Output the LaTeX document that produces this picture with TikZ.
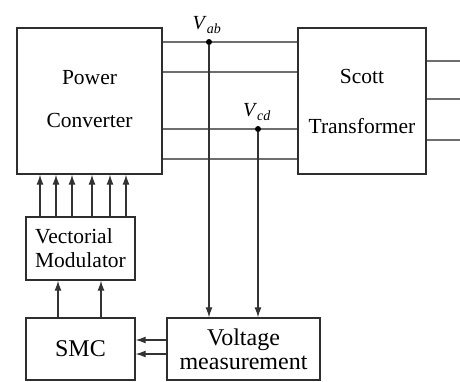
\documentclass[tikz,border=0pt]{standalone}
\usepackage{fontspec}
\setmainfont{Liberation Serif}
\usepackage{tikz}
\usetikzlibrary{arrows.meta,positioning,calc}
\definecolor{boxgray}{HTML}{2E2E2E}
\definecolor{busgray}{HTML}{6E6E6E}

\begin{document}
\begin{tikzpicture}[x=1pt, y=-1pt,
    blk/.style={draw=boxgray, line width=1.4pt, fill=white, inner sep=0pt,
        align=center, font=\fontsize{21.5}{24}\selectfont},
    bus/.style={draw=busgray, line width=1.8pt},
    sig/.style={draw=black!80, line width=1.1pt, -{Latex[length=10pt,width=7pt]}},
    tap/.style={circle, fill=black, inner sep=0pt, minimum size=6pt}]
    \useasboundingbox (0,0) rectangle (460,381);
    % main blocks
    \node[blk, minimum width=145pt, minimum height=146pt,
        label={[align=center, font=\fontsize{21.5}{24}\selectfont, yshift=1.5pt]center:Power\\[19pt]Converter}] (pc) at (89.5,101) {};
    \node[blk, minimum width=128pt, minimum height=146pt] (st) at (362,101)
        {Scott\\[26pt]Transformer};
    \node[blk, minimum width=109pt, minimum height=63pt, align=left] (vmod) at (80.5,248.5)
        {Vectorial\\Modulator};
    \node[blk, minimum width=109pt, minimum height=62pt,
        font=\fontsize{24}{24}\selectfont] (smc) at (80.5,349) {SMC};
    \node[blk, minimum width=153pt, minimum height=62pt,
        font=\fontsize{24}{24}\selectfont] (meas) at (243.5,349) {Voltage\\measurement};
    \coordinate (out) at (460,0);
    % phase lines
    \foreach \y in {42,72,129,159}
        \draw[bus] (pc.east |- 0,\y) -- (st.west |- 0,\y);
    \foreach \y in {61,99,140}
        \draw[bus] (st.east |- 0,\y) -- (out |- 0,\y);
    % measuring points
    \node[tap] (vab) at (209,42) {};
    \node[tap] (vcd) at (258,129) {};
    \node[font=\fontsize{20}{20}\selectfont] (lab) at (207,25) {\textit{V}\textsubscript{\textit{ab}}};
    \node[font=\fontsize{20}{20}\selectfont] (lcd) at (257,112) {\textit{V}\textsubscript{\textit{cd}}};
    \draw[sig] (vab) -- (vab |- meas.north);
    \draw[sig] (vcd) -- (vcd |- meas.north);
    % control path
    \foreach \x in {40,56,72,92,110,126}
        \draw[sig] (vmod.north -| \x,0) -- (pc.south -| \x,0);
    \foreach \x in {58,101}
        \draw[sig] (smc.north -| \x,0) -- (vmod.south -| \x,0);
    \foreach \y in {340,354}
        \draw[sig] (meas.west |- 0,\y) -- (smc.east |- 0,\y);
\end{tikzpicture}
\end{document}
